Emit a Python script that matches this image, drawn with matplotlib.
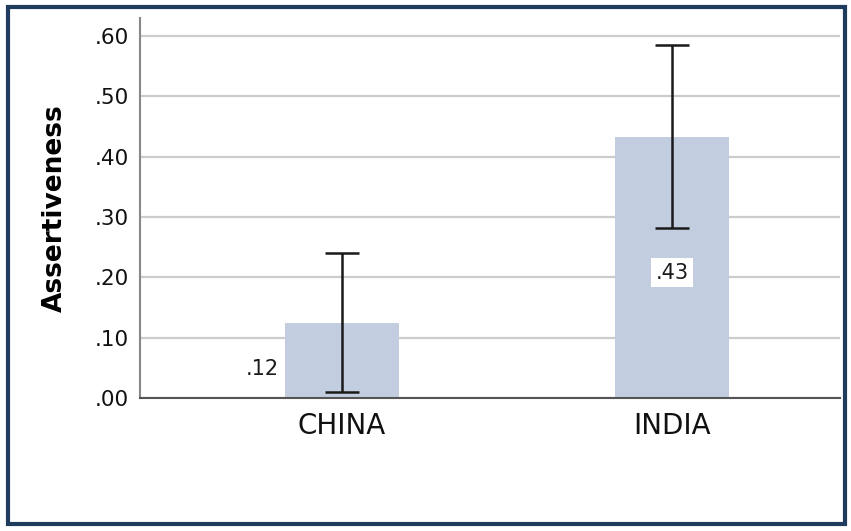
import matplotlib
matplotlib.use("Agg")
import matplotlib.pyplot as plt
from matplotlib.patches import Rectangle

# data
countries = ["CHINA", "INDIA"]
means = [0.124, 0.433]
ci_low = [0.010, 0.282]
ci_high = [0.240, 0.585]
value_labels = [".12", ".43"]
yticks = [0.0, 0.1, 0.2, 0.3, 0.4, 0.5, 0.6]
ytick_labels = [".00", ".10", ".20", ".30", ".40", ".50", ".60"]

fig = plt.figure(figsize=(8.51, 5.31), dpi=100)
ax = fig.add_axes([0.1645, 0.2505, 0.8225, 0.7155])

x = list(range(len(countries)))
yerr = [[m - lo for m, lo in zip(means, ci_low)],
        [hi - m for m, hi in zip(means, ci_high)]]
ax.bar(x, means, width=0.348, color="#c3cde0", zorder=2)
ax.errorbar(x, means, yerr=yerr, fmt="none", ecolor="#1a1a1a",
            elinewidth=1.8, capsize=12, capthick=1.8, zorder=3)

# value labels: china outside left of bar, india inside bar
ax.text(x[0] - 0.19, 0.048, value_labels[0], ha="right", va="center", fontsize=15,
        color="#1a1a1a", bbox=dict(facecolor="white", edgecolor="none", pad=2), zorder=4)
ax.text(x[1], 0.208, value_labels[1], ha="center", va="center", fontsize=15,
        color="#1a1a1a", bbox=dict(facecolor="white", edgecolor="none", pad=3), zorder=4)

ax.set_xlim(-0.612, 1.509)
ax.set_ylim(0, 0.63)
ax.set_yticks(yticks)
ax.set_yticklabels(ytick_labels, fontsize=15.5, color="#111111")
ax.set_xticks(x)
ax.set_xticklabels(countries, fontsize=20, color="#111111")
ax.tick_params(axis="both", length=0)
ax.tick_params(axis="y", pad=8)
ax.tick_params(axis="x", pad=10)
ax.yaxis.grid(True, color="#cccccc", linewidth=1.6, zorder=0)
ax.set_axisbelow(True)
ax.set_ylabel("Assertiveness", fontsize=19, fontweight="bold", labelpad=19)

for s in ["top", "right"]:
    ax.spines[s].set_visible(False)
ax.spines["left"].set_color("#888888")
ax.spines["left"].set_linewidth(1.5)
ax.spines["bottom"].set_color("#555555")
ax.spines["bottom"].set_linewidth(1.5)

# navy frame around the whole picture
fig.patches.append(Rectangle((0.0095, 0.014), 0.984, 0.972, transform=fig.transFigure,
                             fill=False, edgecolor="#1f3b5e", linewidth=3))

fig.savefig("out.png", dpi=100)
